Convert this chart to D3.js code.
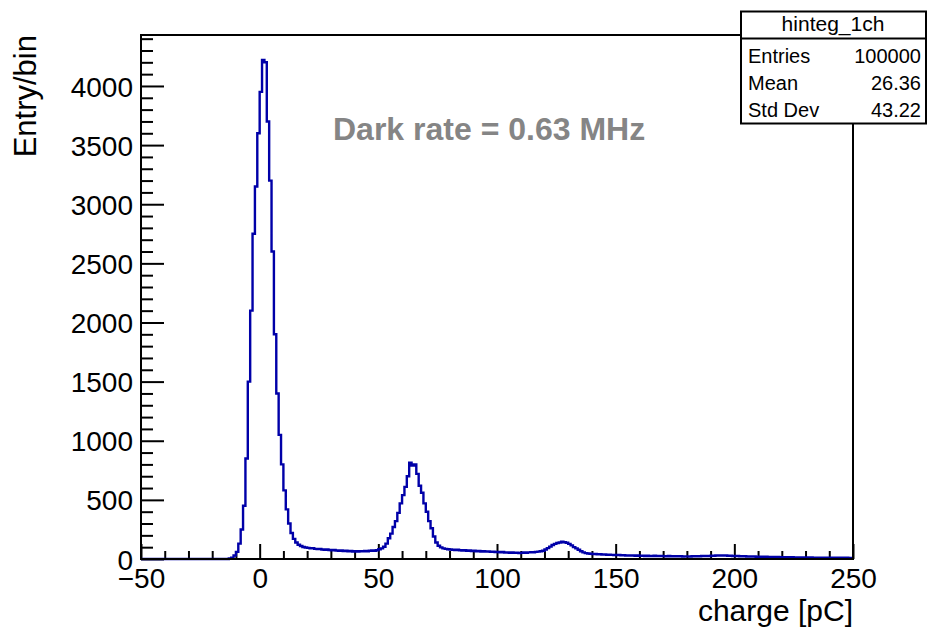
<!DOCTYPE html>
<html>
  <head>
    <meta charset="utf-8">
    <title>hinteg_1ch</title>
    <script src="https://d3js.org/d3.v7.min.js"></script>
    <style>
      body { margin: 0; background: #fff; }
      svg { display: block; font-family: "Liberation Sans", Arial, Helvetica, sans-serif; }
      .tick line { stroke: #000; stroke-width: 2; }
      .tick text { font-size: 28px; fill: #000; }
    </style>
  </head>
  <body>
    <svg id="chart" width="927" height="630"></svg>
    <script>
      // data: counts per 1 pC bin, from -50 to 250 pC
      binStart = -50;
      binWidth = 1;
      counts = [
        0, 0, 0, 0, 0, 0, 0, 0, 0, 0,
        0, 0, 0, 0, 0, 0, 0, 0, 0, 0,
        0, 0, 0, 0, 0, 0, 0, 0, 0, 0,
        0, 0, 0, 0, 0, 0, 0, 4, 12, 30,
        60, 130, 250, 450, 850, 1500, 2100, 2750, 3150, 3600,
        3950, 4220, 4200, 3700, 3200, 2600, 1900, 1400, 1050, 800,
        580, 420, 300, 220, 170, 140, 120, 110, 102, 97,
        94, 90, 92, 86, 84, 85, 80, 78, 80, 76,
        74, 76, 72, 70, 73, 68, 71, 66, 69, 64,
        66, 63, 67, 65, 68, 66, 70, 72, 69, 74,
        82, 90, 104, 130, 175, 215, 270, 320, 390, 470,
        540, 610, 700, 815, 790, 800, 720, 620, 560, 470,
        400, 320, 260, 190, 140, 112, 98, 90, 86, 82,
        80, 78, 76, 79, 74, 72, 75, 70, 72, 68,
        70, 66, 68, 64, 66, 62, 64, 60, 62, 58,
        60, 57, 59, 55, 56, 53, 55, 52, 54, 51,
        52, 55, 53, 56, 58, 57, 60, 62, 66, 70,
        80, 92, 105, 118, 128, 135, 140, 146, 142, 138,
        128, 115, 100, 90, 78, 66, 56, 50, 46, 44,
        42, 43, 40, 41, 38, 39, 36, 37, 35, 34,
        33, 34, 31, 32, 30, 31, 29, 30, 28, 29,
        27, 28, 26, 27, 25, 26, 27, 25, 24, 25,
        24, 23, 25, 22, 24, 23, 22, 23, 21, 22,
        22, 21, 23, 22, 24, 23, 25, 24, 26, 25,
        27, 28, 30, 29, 31, 30, 29, 28, 27, 26,
        24, 25, 23, 22, 24, 21, 22, 20, 21, 19,
        20, 19, 18, 19, 17, 18, 17, 16, 17, 16,
        15, 16, 15, 14, 15, 14, 13, 14, 13, 14,
        13, 12, 13, 12, 11, 12, 11, 12, 11, 12,
        11, 10, 11, 10, 9, 10, 9, 10, 9, 9
      ];
      xDomain = [-50, 250];
      yMax = 4431;
      xTicks = [-50, 0, 50, 100, 150, 200, 250];
      xMinorTicks = d3.range(-40, 250, 10).filter(function(v) { return v % 50 !== 0; });
      yTicks = [0, 500, 1000, 1500, 2000, 2500, 3000, 3500, 4000];
      yMinorTicks = d3.range(100, 4431, 100).filter(function(v) { return v % 500 !== 0; });
      statNames = ["Entries", "Mean", "Std Dev"];
      statValues = ["100000", "26.36", "43.22"];

      // name page elements
      chart = d3.select("#chart");
      margin = { top: 35, right: 74, bottom: 71, left: 141 };
      width = 927;
      height = 630;

      x = d3.scaleLinear()
        .domain(xDomain)
        .range([margin.left, width - margin.right]);
      y = d3.scaleLinear()
        .domain([0, yMax])
        .range([height - margin.bottom, margin.top]);

      // minor ticks
      chart.append("g")
        .attr("transform", "translate(0, " + (height - margin.bottom) + ")")
        .call(d3.axisBottom(x).tickValues(xMinorTicks).tickSize(-8).tickFormat(""))
        .call(function(g) { g.select(".domain").remove(); });
      chart.append("g")
        .attr("transform", "translate(" + margin.left + ", 0)")
        .call(d3.axisLeft(y).tickValues(yMinorTicks).tickSize(-12).tickFormat(""))
        .call(function(g) { g.select(".domain").remove(); });

      // major ticks with labels
      xAxisGroup = chart.append("g")
        .attr("transform", "translate(0, " + (height - margin.bottom) + ")")
        .call(d3.axisBottom(x)
          .tickValues(xTicks)
          .tickSize(-15)
          .tickPadding(9)
          .tickFormat(function(d) { return d < 0 ? "\u2212" + (-d) : d; }))
        .call(function(g) { g.select(".domain").remove(); });
      yAxisGroup = chart.append("g")
        .attr("transform", "translate(" + margin.left + ", 0)")
        .call(d3.axisLeft(y)
          .tickValues(yTicks)
          .tickSize(-23)
          .tickPadding(8)
          .tickFormat(d3.format("d")))
        .call(function(g) { g.select(".domain").remove(); });
      yAxisGroup.selectAll("text").attr("dy", "0.36em");
      chart.selectAll("g").attr("font-family", null).attr("font-size", null);

      // histogram
      points = counts.map(function(c, i) { return [binStart + i * binWidth, c]; });
      points.push([binStart + counts.length * binWidth, counts[counts.length - 1]]);
      line = d3.line()
        .x(function(d) { return x(d[0]); })
        .y(function(d) { return y(d[1]); })
        .curve(d3.curveStepAfter);
      chart.append("path")
        .datum(points)
        .attr("d", line)
        .attr("fill", "none")
        .attr("stroke", "#0000a8")
        .attr("stroke-width", 2.4);

      // frame
      chart.append("rect")
        .attr("x", margin.left)
        .attr("y", margin.top)
        .attr("width", width - margin.left - margin.right)
        .attr("height", height - margin.top - margin.bottom)
        .attr("fill", "none")
        .attr("stroke", "#000")
        .attr("stroke-width", 2);

      // axis titles
      chart.append("text")
        .attr("x", width - margin.right)
        .attr("y", 621)
        .attr("text-anchor", "end")
        .attr("font-size", 30)
        .text("charge [pC]");
      chart.append("text")
        .attr("transform", "translate(36, " + margin.top + ") rotate(-90)")
        .attr("text-anchor", "end")
        .attr("font-size", 31)
        .text("Entry/bin");

      // annotation
      chart.append("text")
        .attr("x", 333)
        .attr("y", 140)
        .attr("font-size", 32)
        .attr("font-weight", "bold")
        .attr("fill", "#858585")
        .text("Dark rate = 0.63 MHz");

      // stats box
      stats = chart.append("g");
      stats.append("rect")
        .attr("x", 741)
        .attr("y", 11.5)
        .attr("width", 185)
        .attr("height", 112)
        .attr("fill", "#fff")
        .attr("stroke", "#000")
        .attr("stroke-width", 2);
      stats.append("line")
        .attr("x1", 741)
        .attr("x2", 926)
        .attr("y1", 38.5)
        .attr("y2", 38.5)
        .attr("stroke", "#000")
        .attr("stroke-width", 2);
      stats.append("text")
        .attr("x", 833)
        .attr("y", 31)
        .attr("text-anchor", "middle")
        .attr("font-size", 21)
        .text("hinteg_1ch");
      statNames.forEach(function(name, i) {
        stats.append("text")
          .attr("x", 748)
          .attr("y", 63 + i * 27)
          .attr("font-size", 20)
          .text(name);
        stats.append("text")
          .attr("x", 921)
          .attr("y", 63 + i * 27)
          .attr("text-anchor", "end")
          .attr("font-size", 20)
          .text(statValues[i]);
      });
    </script>
  </body>
</html>
